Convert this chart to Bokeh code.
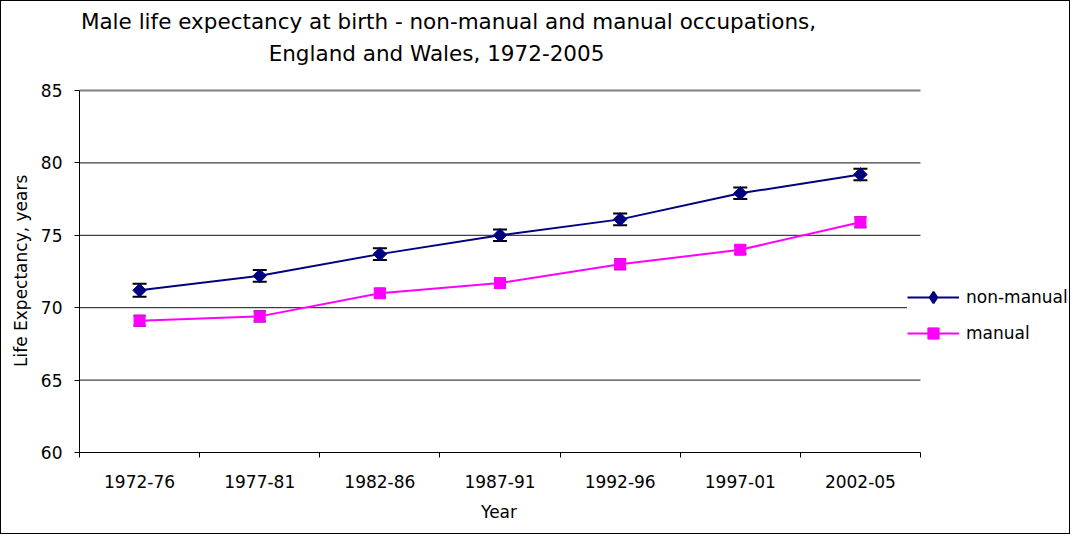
import math
from bokeh.plotting import figure
from bokeh.models import (ColumnDataSource, Whisker, FixedTicker, Title, Label,
                          Legend, LegendItem, Range1d, TeeHead)
from bokeh.embed import file_html
from bokeh.resources import INLINE

# ---- data ----
periods = ["1972-76", "1977-81", "1982-86", "1987-91", "1992-96", "1997-01", "2002-05"]
non_manual = [71.2, 72.2, 73.7, 75.0, 76.1, 77.9, 79.2]
manual = [69.1, 69.4, 71.0, 71.7, 73.0, 74.0, 75.9]
non_manual_err = [0.45, 0.4, 0.4, 0.4, 0.4, 0.4, 0.4]
manual_err = [0.35, 0.35, 0.3, 0.3, 0.35, 0.3, 0.35]
y_ticks = [60, 65, 70, 75, 80, 85]
title_line1 = "Male life expectancy at birth - non-manual and manual occupations,"
title_line2 = "England and Wales, 1972-2005"
x_title = "Year"
y_title = "Life Expectancy, years"
series_names = ["non-manual", "manual"]

FONT = "DejaVu Sans"
NAVY = "#000080"
MAGENTA = "#FF00FF"

# ---- layout (pixels) ----
W, H = 1070, 534
LEFT, BOTTOM = 78, 83
TOP = 89                          # pixel row of the top of the value axis
PLOT_W = 841                      # width of the category area
FRAME_W = W - LEFT - 1            # frame extends under legend and title
FRAME_H = H - BOTTOM
n = len(periods)
x_end = n * FRAME_W / PLOT_W
y0, y1 = y_ticks[0], y_ticks[-1]
y_end = y1 + TOP * (y1 - y0) / (FRAME_H - TOP)

xs = [i + 0.5 for i in range(n)]
src = ColumnDataSource(dict(
    x=xs, nm=non_manual, m=manual,
    nm_lo=[v - e for v, e in zip(non_manual, non_manual_err)],
    nm_hi=[v + e for v, e in zip(non_manual, non_manual_err)],
    m_lo=[v - e for v, e in zip(manual, manual_err)],
    m_hi=[v + e for v, e in zip(manual, manual_err)],
))
grid_src = ColumnDataSource(dict(
    y=y_ticks[1:], x0=[0] * (len(y_ticks) - 1), x1=[n] * (len(y_ticks) - 1),
    c=["#111111"] * (len(y_ticks) - 2) + ["#808080"],
    w=[1] * (len(y_ticks) - 2) + [2],
))

p = figure(width=W, height=H, output_backend="svg", toolbar_location=None,
           x_range=Range1d(0, x_end), y_range=Range1d(y0, y_end),
           min_border_left=LEFT, min_border_right=1, min_border_top=0,
           min_border_bottom=BOTTOM)
p.styles = {"border": "1px solid black"}
p.outline_line_color = None
p.background_fill_color = "white"
p.border_fill_color = "white"
p.xgrid.visible = False
p.ygrid.visible = False

# horizontal gridlines across the category area only
p.segment(x0="x0", x1="x1", y0="y", y1="y", source=grid_src, line_color="c", line_width="w")

# y axis
p.yaxis.bounds = (y0, y1)
p.yaxis.ticker = FixedTicker(ticks=y_ticks)
p.yaxis.axis_line_color = "black"
p.yaxis.major_tick_out = 5
p.yaxis.major_tick_in = 0
p.yaxis.minor_tick_line_color = None
p.yaxis.major_label_text_font = FONT
p.yaxis.major_label_text_font_size = "17px"
p.yaxis.major_label_text_color = "black"
p.yaxis.major_label_standoff = 12

# y axis title, centred on the value axis
p.add_layout(Title(text=y_title, align="left", offset=85.5,
                   text_font=FONT, text_font_size="17px", text_font_style="normal",
                   text_color="black", standoff=14), "left")

# x axis (only along the category area)
p.xaxis.bounds = (0, n)
p.xaxis.ticker = FixedTicker(ticks=xs, minor_ticks=list(range(n + 1)))
p.xaxis.major_label_overrides = {x: lab for x, lab in zip(xs, periods)}
p.xaxis.axis_line_color = "black"
p.xaxis.major_tick_out = 0
p.xaxis.major_tick_in = 0
p.xaxis.major_tick_line_color = None
p.xaxis.minor_tick_out = 5
p.xaxis.minor_tick_in = 0
p.xaxis.minor_tick_line_color = "black"
p.xaxis.major_label_text_font = FONT
p.xaxis.major_label_text_font_size = "17px"
p.xaxis.major_label_text_color = "black"
p.xaxis.major_label_standoff = 17

# x axis title placed under the category area's centre
p.add_layout(Title(text=x_title, align="left", offset=PLOT_W / 2 - 19,
                   text_font=FONT, text_font_size="17px", text_font_style="normal",
                   text_color="black", standoff=18), "below")

# error bars (behind markers)
for lo, hi, w in (("nm_lo", "nm_hi", 14), ("m_lo", "m_hi", 12)):
    wh = Whisker(source=src, base="x", lower=lo, upper=hi, line_color="black",
                 line_width=1, level="underlay",
                 upper_head=TeeHead(size=w, line_color="black", line_width=2),
                 lower_head=TeeHead(size=w, line_color="black", line_width=2))
    p.add_layout(wh)

# series
l1 = p.line("x", "nm", source=src, line_color=NAVY, line_width=2)
s1 = p.scatter("x", "nm", source=src, marker="square", angle=math.pi / 4, size=9.5,
               fill_color=NAVY, line_color=NAVY)
s1_key = p.scatter("x", "nm", source=src, marker="diamond", size=12,
                   fill_color=NAVY, line_color=NAVY, line_width=2, visible=False)
l2 = p.line("x", "m", source=src, line_color=MAGENTA, line_width=2)
s2 = p.scatter("x", "m", source=src, marker="square", size=11,
               fill_color=MAGENTA, line_color=MAGENTA)

legend = Legend(items=[LegendItem(label=series_names[0], renderers=[l1, s1_key]),
                       LegendItem(label=series_names[1], renderers=[l2, s2])],
                location=(828, 105), border_line_color=None,
                background_fill_color="white", background_fill_alpha=1,
                inactive_fill_alpha=0,
                padding=7, margin=0, glyph_width=52, glyph_height=28, label_height=20,
                spacing=8, label_standoff=7, label_text_font=FONT,
                label_text_font_size="17px", label_text_color="black")
p.add_layout(legend)

# two-line chart title (inside the tall frame, above the value axis)
for txt, xx, yy in ((title_line1, 369, FRAME_H - 19.5), (title_line2, 357, FRAME_H - 51.7)):
    p.add_layout(Label(x=xx, y=yy, x_units="screen", y_units="screen", text=txt,
                       text_align="center", text_baseline="middle", text_font=FONT,
                       text_font_size="21.5px", text_color="black"))

open("out.html", "w").write(file_html(p, INLINE))
